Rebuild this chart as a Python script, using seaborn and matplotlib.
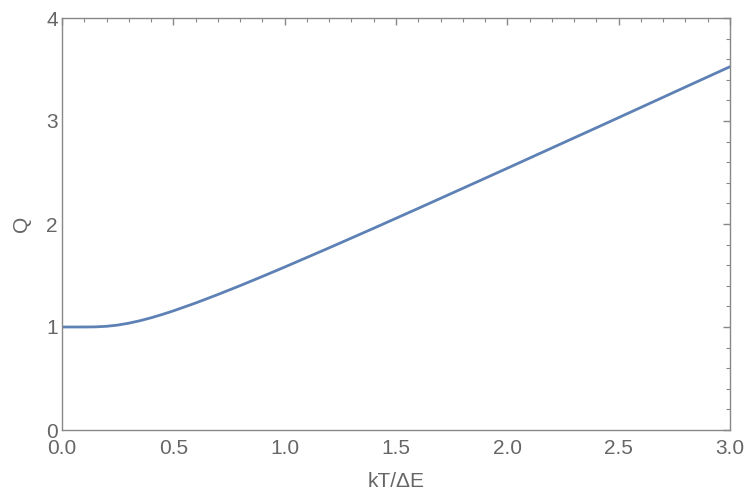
import matplotlib
matplotlib.use("Agg")
import matplotlib.pyplot as plt
import seaborn as sns
import pandas as pd
from matplotlib.ticker import MultipleLocator

# Werte
kT_dE = [0.0, 0.05, 0.1, 0.15, 0.2, 0.25, 0.3, 0.35, 0.4, 0.45, 0.5, 0.6, 0.7, 0.8, 0.9,
         1.0, 1.2, 1.4, 1.6, 1.8, 2.0, 2.2, 2.4, 2.6, 2.8, 3.0]
Q_werte = [1.0, 1.0, 1.0001, 1.0013, 1.0068, 1.0187, 1.0370, 1.0609, 1.0894, 1.1216, 1.1565,
           1.2329, 1.3153, 1.4015, 1.4908, 1.5820, 1.7687, 1.9589, 2.1518, 2.3464, 2.5415,
           2.7382, 2.9343, 3.1319, 3.3300, 3.5273]

df = pd.DataFrame({"x": kT_dE, "Q": Q_werte})

sns.set_style("white")
plt.rcParams['font.family'] = ['Liberation Sans', 'DejaVu Sans']

cinza = "#666666"
fig = plt.figure(figsize=(7.5, 4.95), dpi=100)
ax = fig.add_axes([62 / 750, 1 - 430 / 495, (730 - 62) / 750, (430 - 18) / 495])

sns.lineplot(data=df, x="x", y="Q", ax=ax, color="#5E81B5", linewidth=2.0)

ax.set_xlim(0, 3)
ax.set_ylim(0, 4)
ax.xaxis.set_major_locator(MultipleLocator(0.5))
ax.xaxis.set_minor_locator(MultipleLocator(0.1))
ax.yaxis.set_major_locator(MultipleLocator(1))
ax.yaxis.set_minor_locator(MultipleLocator(0.2))
ax.set_xticklabels([f"{v:.1f}" for v in ax.get_xticks()])

for s in ax.spines.values():
    s.set_color("#888888")
    s.set_linewidth(1.0)

ax.tick_params(which="both", direction="in", top=True, right=True, colors="#888888",
               labelcolor=cinza, labelsize=15)
ax.tick_params(which="major", length=5, width=1)
ax.tick_params(which="minor", length=3, width=0.8)
ax.tick_params(axis="x", pad=6.5)
ax.tick_params(axis="y", pad=3)

ax.set_xlabel("kT/ΔE", color=cinza, fontsize=15, labelpad=10)
ax.set_ylabel("Q", color=cinza, fontsize=15, labelpad=11)

fig.savefig("out.png", dpi=100)
